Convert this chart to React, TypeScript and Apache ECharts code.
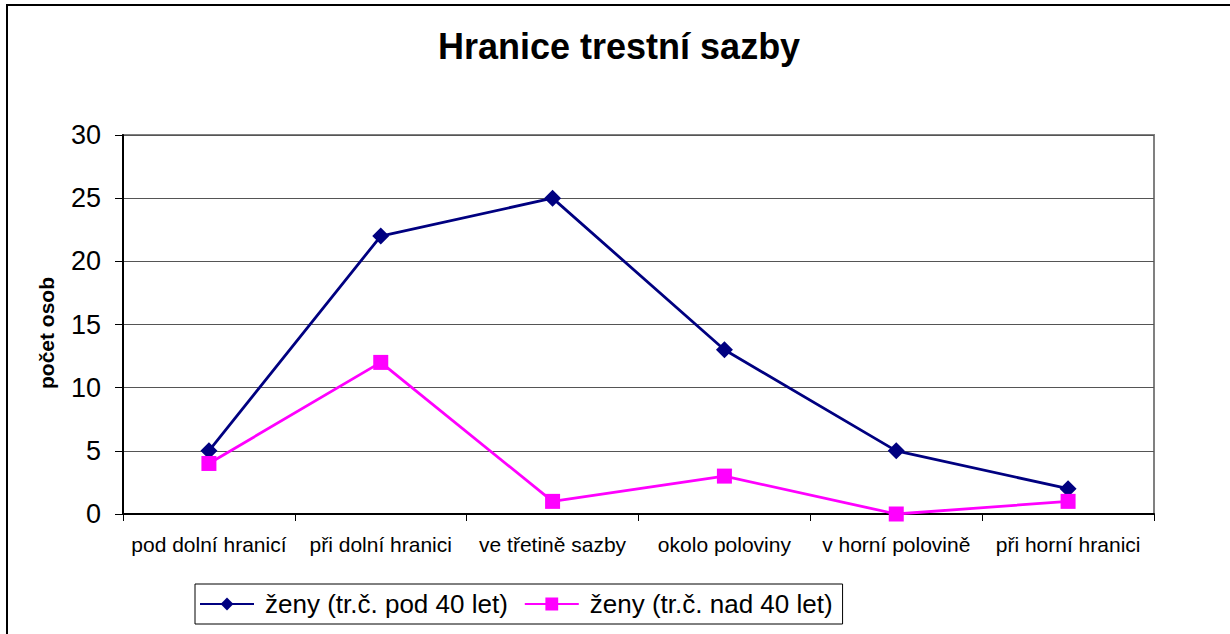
import React, { useEffect, useRef } from "react";
import * as echarts from "echarts";

const TITLE = "Hranice trestní sazby";
const Y_NAME = "počet osob";
const CATEGORIES = [
  "pod dolní hranicí",
  "při dolní hranici",
  "ve třetině sazby",
  "okolo poloviny",
  "v horní polovině",
  "při horní hranici",
];
const SERIES_A_NAME = "ženy (tr.č. pod 40 let)";
const SERIES_A = [5, 22, 25, 13, 5, 2];
const SERIES_B_NAME = "ženy (tr.č. nad 40 let)";
const SERIES_B = [4, 12, 1, 3, 0, 1];
const Y_MIN = 0;
const Y_MAX = 30;
const Y_STEP = 5;

const FONT = "'Liberation Sans', Arial, sans-serif";

export default function App() {
  const ref = useRef<HTMLDivElement>(null);
  useEffect(() => {
    if (!ref.current) return;
    const chart = echarts.init(ref.current, null, { renderer: "svg" });
    chart.setOption({
      animation: false,
      backgroundColor: "#fff",
      textStyle: { fontFamily: FONT },
      title: {
        text: TITLE,
        left: 438,
        top: 28,
        padding: 0,
        textStyle: { fontFamily: FONT, fontSize: 36, fontWeight: "bold", color: "#000" },
      },
      graphic: [
        {
          type: "rect",
          shape: { x: 7, y: 5, width: 1240, height: 700 },
          style: { fill: "none", stroke: "#000", lineWidth: 2 },
          silent: true,
        },
        {
          type: "text",
          x: 46,
          y: 333,
          rotation: Math.PI / 2,
          style: {
            text: Y_NAME,
            fontFamily: FONT,
            fontSize: 21,
            fontWeight: "bold",
            fill: "#000",
            align: "center",
            verticalAlign: "middle",
          },
        },
      ],
      grid: {
        left: 123,
        right: 76,
        top: 135,
        bottom: 120,
        show: true,
        borderColor: "#808080",
        borderWidth: 2,
        backgroundColor: "transparent",
      },
      legend: {
        left: 195,
        top: 584,
        padding: [6, 10, 6, 4],
        itemGap: 16,
        itemWidth: 54,
        itemHeight: 16,
        borderColor: "#000",
        borderWidth: 1,
        backgroundColor: "#fff",
        textStyle: { fontFamily: FONT, fontSize: 26, color: "#000", lineHeight: 28, padding: [0, 0, 0, 6] },
        data: [SERIES_A_NAME, SERIES_B_NAME],
      },
      xAxis: {
        type: "category",
        data: CATEGORIES,
        boundaryGap: true,
        axisLine: { show: true, lineStyle: { color: "#000", width: 2 } },
        axisTick: { show: true, interval: 0, length: 7, lineStyle: { color: "#000", width: 1 } },
        axisLabel: { interval: 0, margin: 20, fontFamily: FONT, fontSize: 21, color: "#000" },
        splitLine: { show: false },
      },
      yAxis: {
        type: "value",
        min: Y_MIN,
        max: Y_MAX,
        interval: Y_STEP,
        axisLine: { show: true, lineStyle: { color: "#000", width: 2 } },
        axisTick: { show: true, length: 8, lineStyle: { color: "#000", width: 1 } },
        axisLabel: { margin: 22, fontFamily: FONT, fontSize: 27, color: "#000" },
        splitLine: { show: true, lineStyle: { color: "#555", width: 1 } },
      },
      series: [
        {
          name: SERIES_A_NAME,
          type: "line",
          data: SERIES_A,
          symbol: "diamond",
          symbolSize: 17,
          itemStyle: { color: "#000080" },
          lineStyle: { color: "#000080", width: 2.8 },
        },
        {
          name: SERIES_B_NAME,
          type: "line",
          data: SERIES_B,
          symbol: "rect",
          symbolSize: 15,
          itemStyle: { color: "#FF00FF" },
          lineStyle: { color: "#FF00FF", width: 2.8 },
        },
      ],
    });
    return () => chart.dispose();
  }, []);
  return (
    <div
      ref={ref}
      style={{ position: "fixed", left: 0, top: 0, width: 1230, height: 634 }}
    />
  );
}
